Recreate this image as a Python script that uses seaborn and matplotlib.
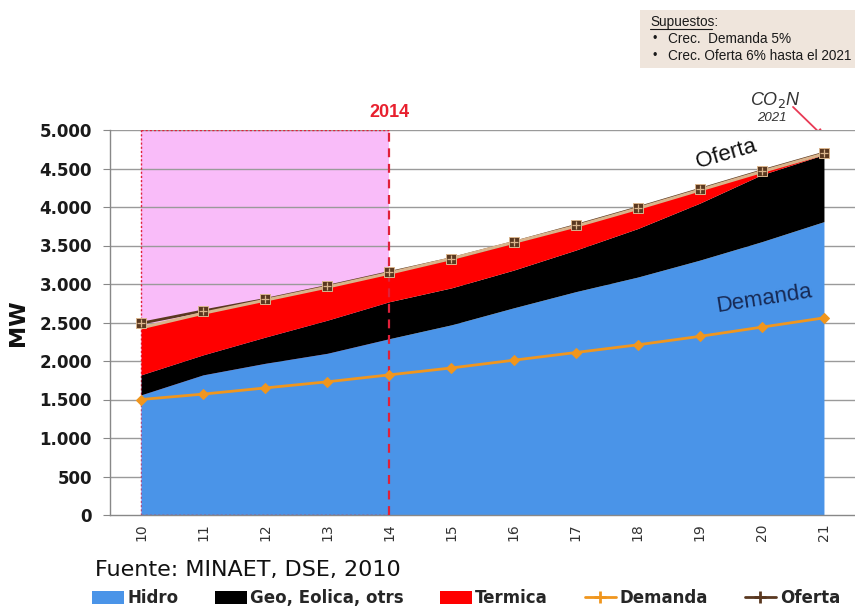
import numpy as np
import pandas as pd
import matplotlib
matplotlib.use("Agg")
import matplotlib.pyplot as plt
import seaborn as sns
from matplotlib.lines import Line2D
from matplotlib.patches import Patch, Rectangle, FancyArrowPatch

# ---------------- data ----------------
years = [10, 11, 12, 13, 14, 15, 16, 17, 18, 19, 20, 21]
year_labels = [str(y) for y in years]
hidro = [1560, 1820, 1970, 2100, 2290, 2470, 2690, 2900, 3090, 3310, 3550, 3810]
geo_eolica = [260, 260, 340, 430, 480, 480, 490, 540, 630, 740, 870, 870]
termica = [610, 540, 480, 430, 370, 380, 360, 310, 260, 170, 40, 10]
demanda = [1500, 1570, 1650, 1730, 1820, 1910, 2010, 2110, 2210, 2320, 2440, 2560]
oferta = [2490, 2650, 2800, 2970, 3150, 3330, 3540, 3760, 3990, 4230, 4470, 4700]
y_ticks = [0, 500, 1000, 1500, 2000, 2500, 3000, 3500, 4000, 4500, 5000]
highlight_start, highlight_end = 10, 14

df = pd.DataFrame({"year": years, "Hidro": hidro, "Geo": geo_eolica,
                   "Termica": termica, "Demanda": demanda, "Oferta": oferta})

C_HIDRO = "#4a94e8"
C_GEO = "#000000"
C_TERM = "#ff0000"
C_DEM = "#f0961e"
C_OF = "#5a3820"
C_TAN = "#d9b48c"
C_PINK = "#f9bcf9"

sns.set_style("white")
plt.rcParams["font.family"] = ["DejaVu Sans"]

fig = plt.figure(figsize=(8.55, 6.08), dpi=100)
ax = fig.add_axes([110 / 855, 1 - 515 / 608, 745 / 855, (515 - 130) / 608])

# highlight region
ax.add_patch(Rectangle((highlight_start, 0), highlight_end - highlight_start, 5000,
                       facecolor=C_PINK, edgecolor="none", zorder=0))

# grid
for v in y_ticks[1:]:
    ax.axhline(v, color="#9a9a9a", lw=1.0, zorder=0.5)

# stacked areas
h = np.array(hidro)
g = h + np.array(geo_eolica)
t = g + np.array(termica)
ax.fill_between(years, 0, h, color=C_HIDRO, lw=0, zorder=1)
ax.fill_between(years, h, g, color=C_GEO, lw=0, zorder=1)
ax.fill_between(years, g, t, color=C_TERM, lw=0, zorder=1)

# highlight borders
ax.plot([highlight_start, highlight_start], [0, 5000], ls=(0, (1.5, 1.5)), color="#e0203a", lw=1.0, zorder=0.8)
ax.plot([highlight_start, highlight_end], [5000, 5000], ls=(0, (1.5, 1.5)), color="#e0203a", lw=1.0, zorder=0.8)
ax.plot([highlight_start, highlight_end], [0, 0], ls=(0, (1.5, 1.5)), color="#e0203a", lw=1.0, zorder=3)
ax.plot([highlight_end, highlight_end], [0, 5000], ls=(0, (4, 3)), color="#e0203a", lw=1.6, zorder=3)

# lines
sns.lineplot(data=df, x="year", y="Oferta", ax=ax, color=C_OF, lw=2.0, zorder=4, legend=False)
ax.plot(years, t, color=C_TAN, lw=2.2, zorder=5)
ax.plot(years, oferta, ls="none", marker="s", ms=7, mfc=C_OF, mec=C_TAN, mew=0.7, zorder=6)
ax.plot(years, oferta, ls="none", marker="+", ms=6, mec=C_TAN, mew=0.9, zorder=7)
sns.lineplot(data=df, x="year", y="Demanda", ax=ax, color=C_DEM, lw=2.0, marker="D",
             markersize=5, markeredgecolor=C_DEM, zorder=6, legend=False)

# axes styling
ax.set_xlim(9.5, 21.5)
ax.set_ylim(0, 5000)
ax.set_yticks(y_ticks)
ax.set_yticklabels([f"{v:,}".replace(",", ".") for v in y_ticks],
                   fontsize=12, fontweight="bold", color="#1a1a1a")
ax.set_xticks(years)
ax.set_xticklabels(year_labels, rotation=90, fontsize=10, color="#333333")
ax.set_xticks(np.arange(9.5, 22, 1), minor=True)
ax.tick_params(axis="x", which="major", length=0, pad=6)
ax.tick_params(axis="x", which="minor", length=5, color="#888888", direction="out")
ax.tick_params(axis="y", length=5, color="#888888", direction="out", left=True, pad=8)
ax.set_xlabel("")
ax.set_ylabel("MW", fontsize=16, fontweight="bold", labelpad=8, color="#111111")
for s in ["top", "right"]:
    ax.spines[s].set_visible(False)
for s in ["left", "bottom"]:
    ax.spines[s].set_color("#888888")
    ax.spines[s].set_linewidth(1.0)
ax.set_zorder(2)

fam = ["Liberation Sans", "DejaVu Sans"]
# annotations inside chart
ax.text(14, 5120, "2014", color="#e8202e", fontsize=13, fontweight="bold",
        ha="center", va="bottom", family=fam)
ax.text(19.42, 4680, "Oferta", fontsize=16, rotation=16, ha="center", va="center",
        family=fam, color="#111111")
ax.text(20.03, 2810, "Demanda", fontsize=16, rotation=9, ha="center", va="center",
        family=fam, color="#172a55")

# CO2N label and arrow (figure coordinates)
fig.text(775 / 855, 1 - 100 / 608, "CO$_2$N", fontsize=13, style="italic", ha="center",
         va="center", family=fam, color="#333333")
fig.text(772 / 855, 1 - 118 / 608, "2021", fontsize=9.5, style="italic", ha="center",
         va="center", family=fam, color="#333333")
fig.add_artist(FancyArrowPatch((791 / 855, 1 - 105 / 608), (826 / 855, 1 - 139 / 608),
                               transform=fig.transFigure, arrowstyle="-|>",
                               mutation_scale=11, color="#e83a55", lw=1.3))

# Supuestos box
fig.add_artist(Rectangle((640 / 855, 1 - 68 / 608), 215 / 855, 58 / 608,
                         transform=fig.transFigure, facecolor="#efe5dc", edgecolor="none"))
fig.text(650 / 855, 1 - 22 / 608, "Supuestos:", fontsize=9.8, family=fam, va="center", color="#1a1a1a")
fig.add_artist(Line2D([650 / 855, 712 / 855], [1 - 29 / 608, 1 - 29 / 608],
                      transform=fig.transFigure, color="#1a1a1a", lw=0.8))
fig.text(652 / 855, 1 - 39 / 608, "•", fontsize=9, family=fam, va="center", color="#1a1a1a")
fig.text(668 / 855, 1 - 39 / 608, "Crec.  Demanda 5%", fontsize=9.8, family=fam, va="center", color="#1a1a1a")
fig.text(652 / 855, 1 - 56 / 608, "•", fontsize=9, family=fam, va="center", color="#1a1a1a")
fig.text(668 / 855, 1 - 56 / 608, "Crec. Oferta 6% hasta el 2021", fontsize=9.8, family=fam,
         va="center", color="#1a1a1a")

# source
fig.text(95 / 855, 1 - 570 / 608, "Fuente: MINAET, DSE, 2010", fontsize=16, va="center",
         color="#111111")

# legend
handles = [
    Patch(facecolor=C_HIDRO, edgecolor="none"),
    Patch(facecolor=C_GEO, edgecolor="none"),
    Patch(facecolor=C_TERM, edgecolor="none"),
    Line2D([], [], color=C_DEM, lw=2, marker="+", ms=8, mew=2),
    Line2D([], [], color=C_OF, lw=2, marker="+", ms=8, mew=2),
]
labels = ["Hidro", "Geo, Eolica, otrs", "Termica", "Demanda", "Oferta"]
fig.legend(handles, labels, loc="center", bbox_to_anchor=(466 / 855, 1 - 598 / 608), ncol=5,
           frameon=False, prop={"weight": "bold", "size": 12}, handlelength=1.9,
           handleheight=0.8, handletextpad=0.2, columnspacing=2.2, borderaxespad=0)

fig.savefig("out.png", dpi=100)
